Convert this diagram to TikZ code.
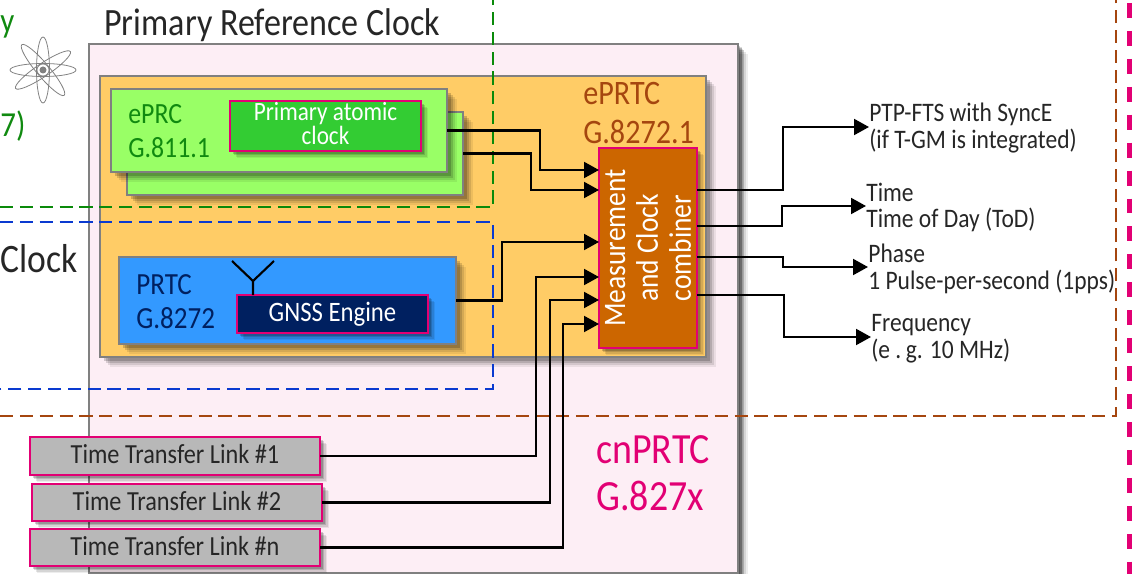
\documentclass[tikz,border=0pt]{standalone}
\usepackage{fontspec}
\setmainfont[FakeStretch=0.88]{Carlito}
\usetikzlibrary{arrows.meta,shadows}

\definecolor{magentaline}{HTML}{E20074}
\definecolor{borderline}{HTML}{808080}
\definecolor{pinkfill}{HTML}{FDEEF5}
\definecolor{orangefill}{HTML}{FFCC66}
\definecolor{greenfill}{HTML}{99FF66}
\definecolor{atomicfill}{HTML}{33CC33}
\definecolor{bluefill}{HTML}{3399FF}
\definecolor{navyfill}{HTML}{002060}
\definecolor{rustfill}{HTML}{CC6600}
\definecolor{greyfill}{HTML}{B8B8B8}
\definecolor{greentext}{HTML}{108A10}
\definecolor{rusttext}{HTML}{A5460F}
\definecolor{greendash}{HTML}{0A8A0A}
\definecolor{bluedash}{HTML}{0A3AD0}

\begin{document}
\begin{tikzpicture}[x=0.02cm,y=-0.02cm,
  boxsize/.style 2 args={minimum width=#1*0.02cm,minimum height=#2*0.02cm},
  softshadow/.style={general shadow={fill=black,opacity=.07,shadow xshift=#1*0.024cm,shadow yshift=-#1*0.024cm},
    general shadow={fill=black,opacity=.1,shadow xshift=#1*0.019cm,shadow yshift=-#1*0.019cm},
    general shadow={fill=black,opacity=.14,shadow xshift=#1*0.014cm,shadow yshift=-#1*0.014cm},
    general shadow={fill=black,opacity=.18,shadow xshift=#1*0.009cm,shadow yshift=-#1*0.009cm}},
  box/.style={draw=borderline,line width=1.1pt,inner sep=0pt,outer sep=0pt,anchor=north west,softshadow=8},
  inbox/.style={draw=magentaline,line width=.9pt,inner sep=0pt,outer sep=0pt,anchor=north west,softshadow=6},
  boxtext/.style={inner sep=0pt,align=left,anchor=west},
  outtext/.style={inner sep=0pt,align=left,anchor=west,font=\fontsize{15.2}{15.3}\selectfont,text=black!85},
  title/.style={inner sep=0pt,anchor=west,font=\fontsize{22}{24}\selectfont,text=black!85},
  linktext/.style={font=\fontsize{15.7}{17}\selectfont,text=black!85,text depth=2.2pt},
  link/.style={line width=1.4pt,-{Triangle[length=8.5pt,width=9pt]}},
  border/.style={line width=.9pt,dash pattern=on 7.5pt off 3.8pt}]

\useasboundingbox (0,0) rectangle (1132,574);

\node[box,softshadow=5,fill=pinkfill,boxsize={649}{529}] (primary) at (89,44) {};
\node[box,fill=orangefill,boxsize={606}{281}] (eprtc) at (100,76) {};

\node[box,fill=greenfill,boxsize={336}{83}] (eprcback) at (127,112) {};
\node[box,fill=greenfill,boxsize={336}{83}] (eprc) at (111,89) {};
\node[inbox,fill=atomicfill,boxsize={191}{50},text=white,align=center,text depth=2.5pt,font=\fontsize{15}{13.6}\selectfont] (atomic) at (230,101) {Primary atomic\\clock};

\node[box,fill=bluefill,boxsize={337}{87}] (prtc) at (119,257) {};
\node[inbox,fill=navyfill,boxsize={191}{38},text=white,font=\fontsize{16}{17}\selectfont] (gnss) at (237,295) {GNSS Engine};

\node[inbox,fill=rustfill,boxsize={98}{200}] (combiner) at (599,148) {};
\node[rotate=90,inner sep=0pt,align=center,text=white,font=\fontsize{17.8}{18.7}\selectfont] (combinertext) at (combiner.center) {Measurement\\and Clock\\combiner};

\node[inbox,fill=greyfill,boxsize={290}{38},linktext] (linka) at (30,437) {Time Transfer Link \#1};
\node[inbox,fill=greyfill,boxsize={290}{37},linktext] (linkb) at (32,484) {Time Transfer Link \#2};
\node[inbox,fill=greyfill,boxsize={290}{37},linktext] (linkn) at (30,529) {Time Transfer Link \#n};

% dashed frames
\draw[border,draw=greendash] (0,207) -- (493,207) -- (493,0);
\draw[border,draw=bluedash] (0,222) -- (493,222) -- (493,389) -- (0,389);
\draw[border,draw=rusttext] (0,416) -- (1116,416) -- (1116,0);
\draw[draw=magentaline,line width=2.5pt,dash pattern=on 8.5pt off 7.4pt,dash phase=14.2pt] (1129.5,0) -- (1129.5,574);

% atom
\foreach \ang in {0,90,34,-50}
  \draw[borderline,line width=.45pt,rotate around={\ang:(43,70)}] (43,70) ellipse [x radius=33,y radius=6.5];
\draw[borderline,line width=.4pt] (43,70) circle [radius=6];
\fill[borderline] (43,70) circle [radius=3.5];

% antenna
\coordinate (antfoot) at (253,281);
\coordinate (antleft) at (232,261);
\coordinate (antright) at (274,261);
\draw[line width=1.2pt] (antleft) -- (antfoot) -- (antright) (antfoot) -- (antfoot |- gnss.north);

% texts
\node[title] (titletext) at (104,25) {Primary Reference Clock};
\node[title,font=\fontsize{23}{24}\selectfont] (clocktext) at (0,259) {Clock};
\node[boxtext,text=greentext,font=\fontsize{20}{20}\selectfont] (ytext) at (0,27) {y};
\node[boxtext,text=greentext,font=\fontsize{20}{20}\selectfont] (seventext) at (0,126) {7)};
\node[boxtext,text=greentext,font=\fontsize{16.7}{19.3}\selectfont] (eprctext) at (128,131) {ePRC\\G.811.1};
\node[boxtext,text=rusttext,font=\fontsize{19.5}{22}\selectfont] (eprttext) at (583,113) {ePRTC\\G.8272.1};
\node[boxtext,text=navyfill,font=\fontsize{17.5}{19.3}\selectfont] (prtctext) at (136,302) {PRTC\\G.8272};
\node[boxtext,text=magentaline,font=\fontsize{24.5}{26.6}\selectfont] (cntext) at (596,473) {cnPRTC\\G.827x};

\node[outtext] (ptp) at (869,128) {PTP-FTS with SyncE\\(if T-GM is integrated)};
\node[outtext] (tod) at (866,207.5) {Time\\Time of Day (ToD)};
\node[outtext] (pps) at (868,268.5) {Phase\\1 Pulse-per-second (1pps)};
\node[outtext] (freq) at (871,339) {Frequency\\(e .\,g. 10 MHz)};

% inputs
\draw[link] (eprc.east) -- (540,130.5) |- (combiner.west |- 0,170);
\draw[link] (eprcback.east) -- (531,153.5) |- (combiner.west |- 0,190);
\draw[link] (prtc.east) -- (502,300.5) |- (combiner.west |- 0,242);
\draw[link] (linka.east) -| (536,277) -- (combiner.west |- 0,277);
\draw[link] (linkb.east) -| (550,300) -- (combiner.west |- 0,300);
\draw[link] (linkn.east) -| (563,324) -- (combiner.west |- 0,324);

% outputs
\draw[link] (combiner.east |- 0,190) -| (783,127) -- (ptp.west |- 0,127);
\draw[link] (combiner.east |- 0,226) -| (782,206) -- (tod.west |- 0,206);
\draw[link] (combiner.east |- 0,257) -| (783,267) -- (pps.west |- 0,267);
\draw[link] (combiner.east |- 0,295) -| (784,337) -- (freq.west |- 0,337);

\end{tikzpicture}
\end{document}
